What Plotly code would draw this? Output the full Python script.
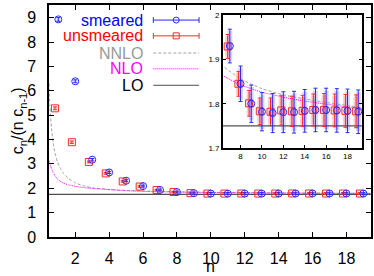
import plotly.graph_objects as go

# ---- data ----
n_vals = list(range(1, 20))
smeared = [8.93, 6.39, 3.17, 2.65, 2.31, 2.09, 1.930, 1.845, 1.800, 1.782, 1.779, 1.781,
           1.781, 1.784, 1.786, 1.786, 1.785, 1.784, 1.782]
smeared_err = [0.08, 0.06, 0.05, 0.045, 0.04, 0.04, 0.038, 0.040, 0.042, 0.043, 0.044, 0.046,
               0.047, 0.048, 0.049, 0.049, 0.049, 0.049, 0.049]
unsmeared = [5.28, 3.89, 3.08, 2.61, 2.28, 2.07, 1.929, 1.845, 1.801, 1.783, 1.782, 1.785,
             1.783, 1.784, 1.786, 1.786, 1.785, 1.784, 1.783]
unsmeared_err = [0.06, 0.05, 0.04, 0.035, 0.03, 0.03, 0.027, 0.028, 0.029, 0.030, 0.031, 0.033,
                 0.034, 0.035, 0.036, 0.037, 0.037, 0.037, 0.037]
unsmeared_shift = -0.2  # plotted slightly left of integer n

curve_n = [0.45, 0.5, 0.6, 0.7, 0.8, 0.95, 1.1, 1.3, 1.6, 2.0, 2.5, 3.0, 4.0, 5.0, 6.35,
           8, 10, 12, 14, 16, 18, 19.5]
nnlo = [6.3, 5.4, 4.45, 3.85, 3.45, 3.08, 2.85, 2.62, 2.40, 2.22, 2.10, 2.02, 1.95, 1.91,
        1.885, 1.856, 1.834, 1.820, 1.811, 1.803, 1.796, 1.791]
nlo = [3.12, 3.0, 2.80, 2.64, 2.52, 2.38, 2.29, 2.21, 2.14, 2.08, 2.03, 1.995, 1.945, 1.90,
       1.864, 1.843, 1.826, 1.815, 1.806, 1.799, 1.793, 1.789]
lo_n = [0.45, 19.5]
lo = [1.75, 1.75]

x_ticks = [2, 4, 6, 8, 10, 12, 14, 16, 18]
inset_x_ticks = [8, 10, 12, 14, 16, 18]
inset_y_ticks = [1.7, 1.8, 1.9, 2.0]
inset_y_text = ["1.7", "1.8", "1.9", "2"]

BLUE = "rgb(40,40,255)"
RED = "rgb(255,40,40)"
GRAY = "#a0a0a0"
MAG = "#ff00ff"
LOC = "#505050"
FONT = "Liberation Sans, Arial, sans-serif"

fig = go.Figure()
x_uns = [v + unsmeared_shift for v in n_vals]

for xa, ya, size, bw in (("x", "y", 7, 4), ("x2", "y2", 7, 5)):
    # light wide bands behind points
    fig.add_trace(go.Scatter(x=x_uns, y=unsmeared, mode="markers", xaxis=xa, yaxis=ya,
                             marker=dict(size=1, opacity=0),
                             error_y=dict(type="data", array=[e * 0.9 for e in unsmeared_err],
                                          color="rgba(255,80,80,0.28)", thickness=bw, width=0),
                             showlegend=False, hoverinfo="skip"))
    fig.add_trace(go.Scatter(x=n_vals, y=smeared, mode="markers", xaxis=xa, yaxis=ya,
                             marker=dict(size=1, opacity=0),
                             error_y=dict(type="data", array=[e * 0.9 for e in smeared_err],
                                          color="rgba(90,90,255,0.25)", thickness=bw, width=0),
                             showlegend=False, hoverinfo="skip"))
    fig.add_trace(go.Scatter(x=curve_n, y=nnlo, mode="lines", xaxis=xa, yaxis=ya,
                             line=dict(color=GRAY, width=1, dash="3px,2px", shape="spline",
                                       smoothing=0.6), showlegend=False))
    fig.add_trace(go.Scatter(x=curve_n, y=nlo, mode="lines", xaxis=xa, yaxis=ya,
                             line=dict(color=MAG, width=1, dash="1px,1px", shape="spline",
                                       smoothing=0.6), showlegend=False))
    fig.add_trace(go.Scatter(x=lo_n, y=lo, mode="lines", xaxis=xa, yaxis=ya,
                             line=dict(color=LOC, width=1.2), showlegend=False))
    fig.add_trace(go.Scatter(x=x_uns, y=unsmeared, mode="markers", xaxis=xa, yaxis=ya,
                             marker=dict(symbol="square-open", size=size, color=RED,
                                         line=dict(width=1)),
                             error_y=dict(type="data", array=unsmeared_err, color=RED,
                                          thickness=1, width=2),
                             showlegend=False))
    fig.add_trace(go.Scatter(x=n_vals, y=smeared, mode="markers", xaxis=xa, yaxis=ya,
                             marker=dict(symbol="circle-open", size=size, color=BLUE,
                                         line=dict(width=1)),
                             error_y=dict(type="data", array=smeared_err, color=BLUE,
                                          thickness=1, width=2),
                             showlegend=False))

axis_common = dict(showline=True, linecolor="black", linewidth=1.5, mirror="ticks",
                   ticks="inside", tickcolor="black", showgrid=False, zeroline=False)

fig.update_layout(
    width=374, height=276,
    margin=dict(l=49, r=1, t=2, b=39),
    paper_bgcolor="white", plot_bgcolor="white",
    font=dict(family=FONT, color="black"),
    xaxis=dict(range=[0.45, 19.45], tickvals=x_ticks, ticklen=5, tickwidth=1,
               tickfont=dict(size=16), ticklabelstandoff=6, **axis_common),
    yaxis=dict(range=[0, 9.52], dtick=1, tick0=0, ticklen=5, tickwidth=1,
               tickfont=dict(size=16), ticklabelstandoff=8, **axis_common),
    xaxis2=dict(domain=[0.540, 0.972], anchor="y2", range=[6.35, 19.35],
                tickvals=inset_x_ticks, ticklen=3, tickwidth=1,
                tickfont=dict(size=8), **axis_common),
    yaxis2=dict(domain=[0.383, 0.957], anchor="x2", range=[1.7, 2.0],
                tickvals=inset_y_ticks, ticktext=inset_y_text, ticklen=3, tickwidth=1,
                tickfont=dict(size=8), **axis_common),
)

# axis titles
fig.add_annotation(text="c<sub>n</sub>/(n c<sub>n-1</sub>)", xref="paper", yref="paper",
                   x=-0.0957, y=0.5, textangle=-90, showarrow=False,
                   xanchor="center", yanchor="middle", font=dict(size=16))
fig.add_annotation(text="n", xref="paper", yref="paper", x=0.5, y=-0.127,
                   showarrow=False, xanchor="center", yanchor="middle", font=dict(size=16),
                   borderpad=0)

# manual legend (text left of sample)
leg = [("smeared", "#0000ff", BLUE, "solid", "circle"),
       ("unsmeared", "#ff0000", RED, "solid", "square"),
       ("NNLO", "#999999", GRAY, "3px,2px", None),
       ("NLO", "#ff00ff", MAG, "1px,1px", None),
       ("LO", "black", LOC, "solid", None)]
leg_y = [0.935, 0.867, 0.793, 0.725, 0.654]
tx, lx0, lx1, mx = 0.2963, 0.324, 0.466, 0.395
cap = 0.0128
for (lab, tcol, lcol, dash, sym), yy in zip(leg, leg_y):
    fig.add_annotation(text=lab, xref="paper", yref="paper", x=tx, y=yy, showarrow=False,
                       xanchor="right", yanchor="middle", font=dict(size=16, color=tcol),
                       borderpad=0)
    fig.add_shape(type="line", xref="paper", yref="paper", x0=lx0, x1=lx1, y0=yy, y1=yy,
                  line=dict(color=lcol, width=1, dash=dash))
    if sym:
        for xc in (lx0, lx1):
            fig.add_shape(type="line", xref="paper", yref="paper", x0=xc, x1=xc,
                          y0=yy - cap, y1=yy + cap, line=dict(color=lcol, width=1))
        fig.add_shape(type="circle" if sym == "circle" else "rect",
                      xref="paper", yref="paper", xsizemode="pixel", ysizemode="pixel",
                      xanchor=mx, yanchor=yy, x0=-3, x1=3, y0=-3, y1=3,
                      line=dict(color=lcol, width=1), fillcolor="rgba(0,0,0,0)")

fig.write_html("out.html", config={"displayModeBar": False},
               post_script="document.body.style.margin='0';document.body.style.padding='0';"
                           "document.documentElement.style.overflow='hidden';")
